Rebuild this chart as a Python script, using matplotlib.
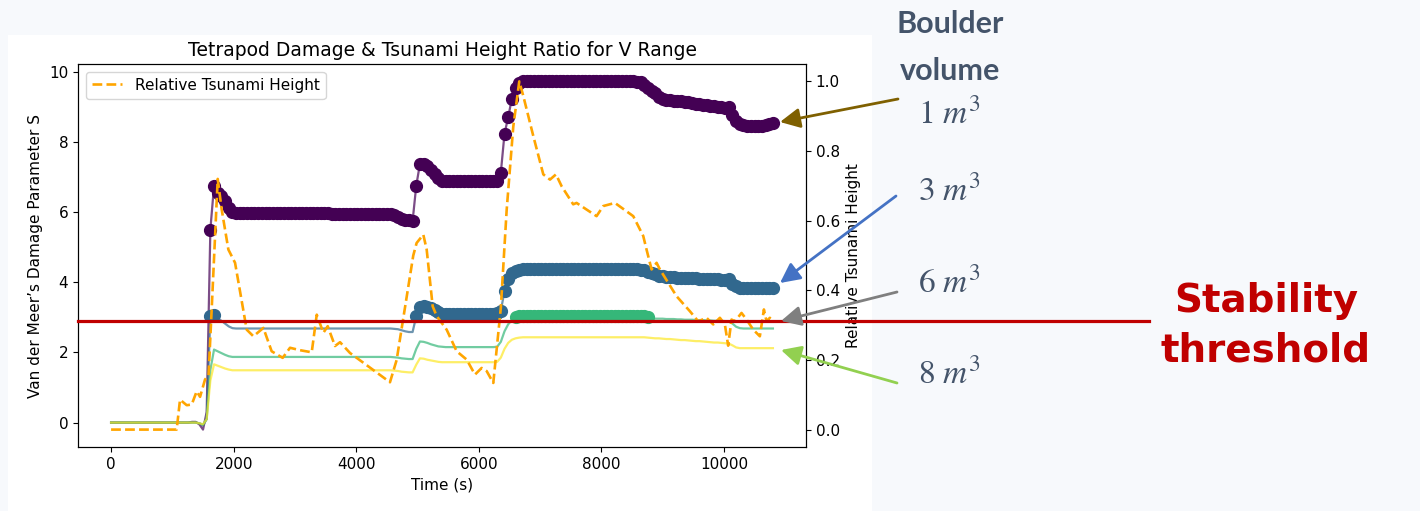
import numpy as np
import matplotlib
matplotlib.use('Agg')
import matplotlib.pyplot as plt
from matplotlib.lines import Line2D
from matplotlib.patches import FancyArrowPatch, Rectangle

# damage series sampled every 60 s
time_s = np.arange(0, 10801, 60)

s_1m3 = [0, 0, 0, 0, 0, 0, 0, 0, 0, 0,
         0, 0, 0, 0, 0, 0, 0, 0, 0, 0,
         0, 0, 0.02, 0.02, -0.05, -0.2, 0.3, 5.5, 6.75, 6.55,
         6.45, 6.3, 6.12, 6.0, 5.97, 5.96, 5.96, 5.96, 5.96, 5.96,
         5.96, 5.96, 5.96, 5.96, 5.96, 5.96, 5.96, 5.96, 5.96, 5.96,
         5.96, 5.96, 5.96, 5.96, 5.96, 5.96, 5.96, 5.96, 5.96, 5.96,
         5.95, 5.95, 5.95, 5.95, 5.95, 5.95, 5.95, 5.95, 5.95, 5.95,
         5.95, 5.95, 5.95, 5.95, 5.95, 5.95, 5.94, 5.92, 5.86, 5.81,
         5.78, 5.76, 5.74, 6.75, 7.37, 7.36, 7.3, 7.2, 7.08, 6.96,
         6.89, 6.88, 6.88, 6.88, 6.88, 6.88, 6.88, 6.88, 6.88, 6.88,
         6.88, 6.88, 6.88, 6.88, 6.88, 6.89, 7.12, 8.23, 8.7, 9.23,
         9.54, 9.68, 9.72, 9.72, 9.72, 9.72, 9.72, 9.72, 9.72, 9.72,
         9.72, 9.72, 9.72, 9.72, 9.72, 9.72, 9.72, 9.72, 9.72, 9.72,
         9.72, 9.72, 9.72, 9.72, 9.72, 9.72, 9.72, 9.72, 9.72, 9.72,
         9.72, 9.72, 9.72, 9.71, 9.7, 9.62, 9.52, 9.45, 9.38, 9.28,
         9.22, 9.19, 9.18, 9.17, 9.16, 9.15, 9.13, 9.12, 9.1, 9.09,
         9.07, 9.06, 9.04, 9.03, 9.01, 9.0, 8.98, 8.97, 9.0, 8.75,
         8.6, 8.52, 8.48, 8.45, 8.44, 8.44, 8.44, 8.45, 8.47, 8.5,
         8.53]

s_3m3 = [0, 0, 0, 0, 0, 0, 0, 0, 0, 0,
         0, 0, 0, 0, 0, 0, 0, 0, 0, 0,
         0, 0, 0, 0, -0.02, -0.08, 0.1, 3.03, 3.06, 2.97,
         2.9, 2.82, 2.74, 2.69, 2.68, 2.68, 2.68, 2.68, 2.68, 2.68,
         2.68, 2.68, 2.68, 2.68, 2.68, 2.68, 2.68, 2.68, 2.68, 2.68,
         2.68, 2.68, 2.68, 2.68, 2.68, 2.68, 2.68, 2.68, 2.68, 2.68,
         2.68, 2.68, 2.68, 2.68, 2.68, 2.68, 2.68, 2.68, 2.68, 2.68,
         2.68, 2.68, 2.68, 2.68, 2.68, 2.68, 2.68, 2.67, 2.66, 2.63,
         2.6, 2.58, 2.58, 3.03, 3.3, 3.33, 3.3, 3.25, 3.2, 3.14,
         3.1, 3.1, 3.1, 3.1, 3.1, 3.1, 3.1, 3.1, 3.1, 3.1,
         3.1, 3.1, 3.1, 3.1, 3.1, 3.11, 3.18, 3.75, 4.1, 4.27,
         4.33, 4.36, 4.37, 4.37, 4.37, 4.37, 4.37, 4.37, 4.37, 4.37,
         4.37, 4.37, 4.37, 4.37, 4.37, 4.37, 4.37, 4.37, 4.37, 4.37,
         4.37, 4.37, 4.37, 4.37, 4.37, 4.37, 4.37, 4.37, 4.37, 4.37,
         4.37, 4.37, 4.37, 4.37, 4.36, 4.34, 4.3, 4.26, 4.22, 4.19,
         4.17, 4.15, 4.14, 4.14, 4.13, 4.13, 4.12, 4.12, 4.11, 4.11,
         4.1, 4.1, 4.09, 4.09, 4.08, 4.08, 4.07, 4.06, 4.1, 3.95,
         3.88, 3.84, 3.82, 3.82, 3.82, 3.82, 3.82, 3.82, 3.82, 3.82,
         3.82]

s_6m3 = [0, 0, 0, 0, 0, 0, 0, 0, 0, 0,
         0, 0, 0, 0, 0, 0, 0, 0, 0, 0,
         0, 0, 0, 0, -0.02, -0.06, 0.1, 1.5, 2.08, 2.03,
         1.98, 1.93, 1.89, 1.87, 1.87, 1.87, 1.87, 1.87, 1.87, 1.87,
         1.87, 1.87, 1.87, 1.87, 1.87, 1.87, 1.87, 1.87, 1.87, 1.87,
         1.87, 1.87, 1.87, 1.87, 1.87, 1.87, 1.87, 1.87, 1.87, 1.87,
         1.87, 1.87, 1.87, 1.87, 1.87, 1.87, 1.87, 1.87, 1.87, 1.87,
         1.87, 1.87, 1.87, 1.87, 1.87, 1.87, 1.87, 1.86, 1.85, 1.83,
         1.82, 1.81, 1.81, 2.1, 2.31, 2.3, 2.27, 2.23, 2.2, 2.17,
         2.16, 2.15, 2.15, 2.15, 2.15, 2.15, 2.15, 2.15, 2.15, 2.15,
         2.15, 2.15, 2.15, 2.15, 2.15, 2.16, 2.3, 2.6, 2.8, 2.92,
         3.01, 3.03, 3.05, 3.05, 3.05, 3.05, 3.05, 3.05, 3.05, 3.05,
         3.05, 3.05, 3.05, 3.05, 3.05, 3.05, 3.05, 3.05, 3.05, 3.05,
         3.05, 3.05, 3.05, 3.05, 3.05, 3.05, 3.05, 3.05, 3.05, 3.05,
         3.05, 3.05, 3.05, 3.05, 3.05, 3.05, 3.01, 2.97, 2.96, 2.96,
         2.96, 2.95, 2.95, 2.95, 2.94, 2.94, 2.93, 2.93, 2.93, 2.92,
         2.92, 2.92, 2.91, 2.91, 2.9, 2.9, 2.9, 2.89, 2.88, 2.82,
         2.73, 2.69, 2.68, 2.68, 2.68, 2.68, 2.68, 2.68, 2.68, 2.68,
         2.68]

s_8m3 = [0, 0, 0, 0, 0, 0, 0, 0, 0, 0,
         0, 0, 0, 0, 0, 0, 0, 0, 0, 0,
         0, 0, 0, 0, -0.02, -0.05, 0.1, 1.2, 1.66, 1.62,
         1.58, 1.54, 1.51, 1.49, 1.49, 1.49, 1.49, 1.49, 1.49, 1.49,
         1.49, 1.49, 1.49, 1.49, 1.49, 1.49, 1.49, 1.49, 1.49, 1.49,
         1.49, 1.49, 1.49, 1.49, 1.49, 1.49, 1.49, 1.49, 1.49, 1.49,
         1.49, 1.49, 1.49, 1.49, 1.49, 1.49, 1.49, 1.49, 1.49, 1.49,
         1.49, 1.49, 1.49, 1.49, 1.49, 1.49, 1.49, 1.48, 1.47, 1.45,
         1.44, 1.43, 1.43, 1.65, 1.83, 1.82, 1.79, 1.77, 1.75, 1.73,
         1.72, 1.72, 1.72, 1.72, 1.72, 1.72, 1.72, 1.72, 1.72, 1.72,
         1.72, 1.72, 1.72, 1.72, 1.72, 1.73, 1.85, 2.1, 2.27, 2.36,
         2.4, 2.42, 2.43, 2.43, 2.43, 2.43, 2.43, 2.43, 2.43, 2.43,
         2.43, 2.43, 2.43, 2.43, 2.43, 2.43, 2.43, 2.43, 2.43, 2.43,
         2.43, 2.43, 2.43, 2.43, 2.43, 2.43, 2.43, 2.43, 2.43, 2.43,
         2.43, 2.43, 2.43, 2.43, 2.43, 2.43, 2.42, 2.41, 2.4, 2.4,
         2.39, 2.38, 2.38, 2.37, 2.36, 2.35, 2.35, 2.34, 2.33, 2.32,
         2.32, 2.31, 2.3, 2.29, 2.28, 2.28, 2.27, 2.26, 2.25, 2.2,
         2.14, 2.12, 2.12, 2.12, 2.12, 2.12, 2.12, 2.12, 2.12, 2.12,
         2.12]

# relative tsunami height (right axis)
tsu_t = [0, 1070, 1125, 1234, 1316, 1397, 1452, 1533, 1590, 1640, 1690, 1740,
         1805, 1914, 2023, 2213, 2322, 2485, 2620, 2800, 2920, 3083, 3274, 3356,
         3464, 3535, 3654, 3736, 3899, 4551, 4660, 4931, 4986, 5095, 5150, 5248,
         5313, 5476, 5639, 5803, 5938, 6047, 6129, 6237, 6360, 6455, 6563, 6661,
         6727, 6890, 7053, 7162, 7260, 7352, 7541, 7596, 7922, 8031, 8222, 8521,
         8684, 8738, 8820, 8902, 8956, 9228, 9445, 9581, 9717, 9826, 9935, 10016,
         10070, 10125, 10179, 10288, 10370, 10479, 10587, 10653, 10696, 10750, 10800]
tsu_h = [0.0, 0.0, 0.086, 0.07, 0.072, 0.11, 0.094, 0.144, 0.155, 0.34, 0.53, 0.72,
         0.632, 0.517, 0.479, 0.287, 0.268, 0.292, 0.225, 0.206, 0.235, 0.228, 0.222, 0.33,
         0.278, 0.297, 0.24, 0.251, 0.22, 0.136, 0.2, 0.5, 0.536, 0.56, 0.517, 0.354,
         0.326, 0.287, 0.225, 0.201, 0.158, 0.177, 0.168, 0.134, 0.35, 0.63, 0.87, 1.0,
         0.958, 0.843, 0.733, 0.718, 0.733, 0.699, 0.647, 0.651, 0.613, 0.642, 0.651, 0.613,
         0.556, 0.517, 0.46, 0.479, 0.46, 0.383, 0.34, 0.311, 0.321, 0.302, 0.321, 0.302,
         0.241, 0.316, 0.311, 0.335, 0.316, 0.287, 0.268, 0.345, 0.311, 0.321, 0.31]

series = [s_1m3, s_3m3, s_6m3, s_8m3]
colors = ['#440154', '#31688e', '#35b779', '#fde725']
volume_labels = [r'$1\ m^3$', r'$3\ m^3$', r'$6\ m^3$', r'$8\ m^3$']
arrow_colors = ['#7f6000', '#4472c4', '#7f7f7f', '#92d050']
threshold = 3.0

plt.rcParams['mathtext.fontset'] = 'stix'

W, H = 1420, 511
fig = plt.figure(figsize=(W / 100, H / 100), dpi=100, facecolor='#f7f9fc')

def fx(px):
    return px / W

def fy(py):
    return 1 - py / H

# white panel behind the chart
fig.add_artist(Rectangle((fx(8), 0), fx(864), 1 - 35 / H, transform=fig.transFigure,
                         facecolor='white', edgecolor='none', zorder=-10))

ax = fig.add_axes([fx(78), fy(447), fx(806 - 78), (447 - 64) / H])
for s, c in zip(series, colors):
    s = np.array(s)
    ax.plot(time_s, s, color=c, alpha=0.7, lw=1.6)
    m = s > threshold
    ax.plot(time_s[m], s[m], 'o', color=c, ms=8.5)

ax.set_xlabel('Time (s)', fontsize=11)
ax.set_ylabel('Van der Meer\u2019s Damage Parameter S', fontsize=11)
ax.set_title('Tetrapod Damage & Tsunami Height Ratio for V Range', fontsize=13.5)
ax.tick_params(labelsize=11)

ax2 = ax.twinx()
ax2.plot(tsu_t, tsu_h, '--', color='orange', lw=1.9, label='Relative Tsunami Height')
ax2.set_ylabel('Relative Tsunami Height', fontsize=11)
ax2.tick_params(labelsize=11)
ax2.legend(loc='upper left', fontsize=11)

# slide annotations
fig.add_artist(Line2D([fx(78), fx(1149)], [fy(321), fy(321)], transform=fig.transFigure,
                      color='#c00000', lw=2.3, zorder=10))

fig.text(fx(950), fy(33), 'Boulder', ha='center', va='baseline', fontsize=22,
         fontweight='bold', family='Lato', color='#44546a')
fig.text(fx(950), fy(80), 'volume', ha='center', va='baseline', fontsize=22,
         fontweight='bold', family='Lato', color='#44546a')

label_y = [123, 200, 292, 383]
tails = [(898, 99), (896, 196), (897, 292), (897, 383)]
heads = [(780, 122), (780, 283), (781, 321), (781, 350)]
for lab, ly, tl, hd, ac in zip(volume_labels, label_y, tails, heads, arrow_colors):
    fig.text(fx(918), fy(ly), lab, ha='left', va='baseline', fontsize=24, color='#44546a')
    fig.add_artist(FancyArrowPatch((fx(tl[0]), fy(tl[1])), (fx(hd[0]), fy(hd[1])),
                                   transform=fig.transFigure, color=ac, lw=2,
                                   arrowstyle='-|>,head_length=0.6,head_width=0.3',
                                   mutation_scale=20, shrinkA=0, shrinkB=0, zorder=11))

fig.text(fx(1266), fy(312), 'Stability', ha='center', va='baseline', fontsize=28,
         fontweight='bold', color='#c00000')
fig.text(fx(1266), fy(362), 'threshold', ha='center', va='baseline', fontsize=28,
         fontweight='bold', color='#c00000')

fig.savefig('out.png', dpi=100, facecolor=fig.get_facecolor())
